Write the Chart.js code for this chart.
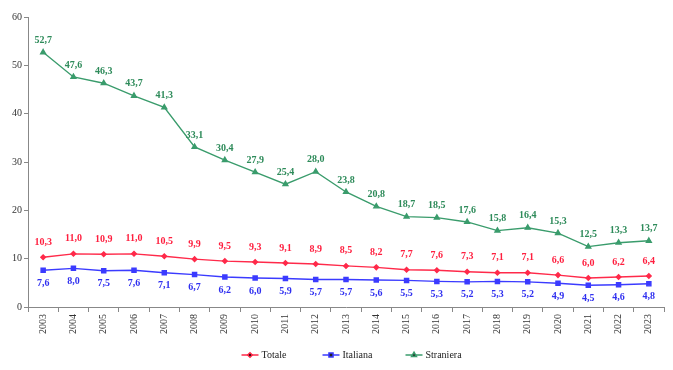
<!DOCTYPE html>
<html>
<head>
<meta charset="utf-8">
<script src="https://cdn.jsdelivr.net/npm/chart.js@4/dist/chart.umd.min.js"></script>
<style>
    html, body { margin: 0; padding: 0; background: #fff; }
    #wrap { width: 673px; height: 370px; }
</style>
</head>
<body>
<div id="wrap"><canvas id="chart" width="673" height="370"></canvas></div>
<script>
const years = ['2003', '2004', '2005', '2006', '2007', '2008', '2009', '2010', '2011', '2012', '2013',
    '2014', '2015', '2016', '2017', '2018', '2019', '2020', '2021', '2022', '2023'];
const totale = [10.3, 11.0, 10.9, 11.0, 10.5, 9.9, 9.5, 9.3, 9.1, 8.9, 8.5, 8.2, 7.7, 7.6, 7.3, 7.1, 7.1, 6.6, 6.0, 6.2, 6.4];
const italiana = [7.6, 8.0, 7.5, 7.6, 7.1, 6.7, 6.2, 6.0, 5.9, 5.7, 5.7, 5.6, 5.5, 5.3, 5.2, 5.3, 5.2, 4.9, 4.5, 4.6, 4.8];
const straniera = [52.7, 47.6, 46.3, 43.7, 41.3, 33.1, 30.4, 27.9, 25.4, 28.0, 23.8, 20.8, 18.7, 18.5, 17.6, 15.8, 16.4, 15.3, 12.5, 13.3, 13.7];
const yTicks = [0, 10, 20, 30, 40, 50, 60];

const serif = '"Liberation Serif", "Times New Roman", serif';

// labels above / below each point, comma decimals
const valueLabels = {
    id: 'valueLabels',
    afterDatasetsDraw(chart) {
        const ctx = chart.ctx;
        ctx.save();
        ctx.font = 'bold 10px ' + serif;
        ctx.textAlign = 'center';
        ctx.textBaseline = 'middle';
        chart.data.datasets.forEach((ds, i) => {
            const meta = chart.getDatasetMeta(i);
            ctx.fillStyle = ds.labelColor;
            meta.data.forEach((pt, j) => {
                const txt = ds.data[j].toFixed(1).replace('.', ',');
                ctx.fillText(txt, pt.x, pt.y + ds.labelOffset);
            });
        });
        ctx.restore();
    }
};

// legend: short line with marker, then name
const lineLegend = {
    id: 'lineLegend',
    afterDraw(chart) {
        const ctx = chart.ctx;
        const cx = chart.width / 2;
        const starts = [cx - 95, cx - 14, cx + 69];
        const y = 355;
        ctx.save();
        chart.data.datasets.forEach((ds, i) => {
            const x = starts[i];
            ctx.strokeStyle = ds.borderColor;
            ctx.lineWidth = 1.5;
            ctx.beginPath();
            ctx.moveTo(x, y);
            ctx.lineTo(x + 17, y);
            ctx.stroke();
            Chart.helpers.drawPoint(ctx, {
                pointStyle: ds.pointStyle,
                radius: ds.pointRadius,
                borderWidth: 1
            }, x + 8.5, y);
            ctx.fillStyle = '#222';
            ctx.font = '10px ' + serif;
            ctx.textAlign = 'left';
            ctx.textBaseline = 'middle';
            ctx.fillText(ds.label, x + 20, y);
        });
        ctx.restore();
    }
};

function series(label, data, color, labelColor, style, radius, offset) {
    return {
        label: label,
        data: data,
        borderColor: color,
        backgroundColor: color,
        pointBackgroundColor: color,
        pointBorderColor: color,
        borderWidth: 1.4,
        pointStyle: style,
        pointRadius: radius,
        pointHoverRadius: radius,
        labelColor: labelColor,
        labelOffset: offset,
        tension: 0
    };
}

new Chart(document.getElementById('chart').getContext('2d'), {
    type: 'line',
    data: {
        labels: years,
        datasets: [
            series('Totale', totale, '#ff2a4a', '#ff1f3f', 'rectRot', 2.3, -15),
            series('Italiana', italiana, '#3b3bff', '#3030f0', 'rect', 2.9, 13),
            series('Straniera', straniera, '#3a9c6c', '#2e8b5a', 'triangle', 2.8, -12)
        ]
    },
    options: {
        responsive: false,
        animation: false,
        layout: { padding: { top: 17, right: 9, bottom: 25, left: 0 } },
        plugins: {
            legend: { display: false },
            tooltip: { enabled: false }
        },
        scales: {
            x: {
                offset: true,
                grid: {
                    offset: true,
                    drawOnChartArea: false,
                    tickLength: 5,
                    color: '#888'
                },
                border: { color: '#888' },
                ticks: {
                    minRotation: 90,
                    maxRotation: 90,
                    padding: 2,
                    color: '#333',
                    font: { family: serif, size: 10 }
                },
                afterFit(scale) { scale.height = 38; }
            },
            y: {
                min: 0,
                max: 60,
                afterBuildTicks(scale) { scale.ticks = yTicks.map(v => ({ value: v })); },
                grid: {
                    drawOnChartArea: false,
                    tickLength: 4,
                    color: '#888'
                },
                border: { color: '#888' },
                ticks: {
                    padding: 2,
                    color: '#333',
                    font: { family: serif, size: 10 }
                },
                afterFit(scale) { scale.width = 28; }
            }
        }
    },
    plugins: [valueLabels, lineLegend]
});
</script>
</body>
</html>
